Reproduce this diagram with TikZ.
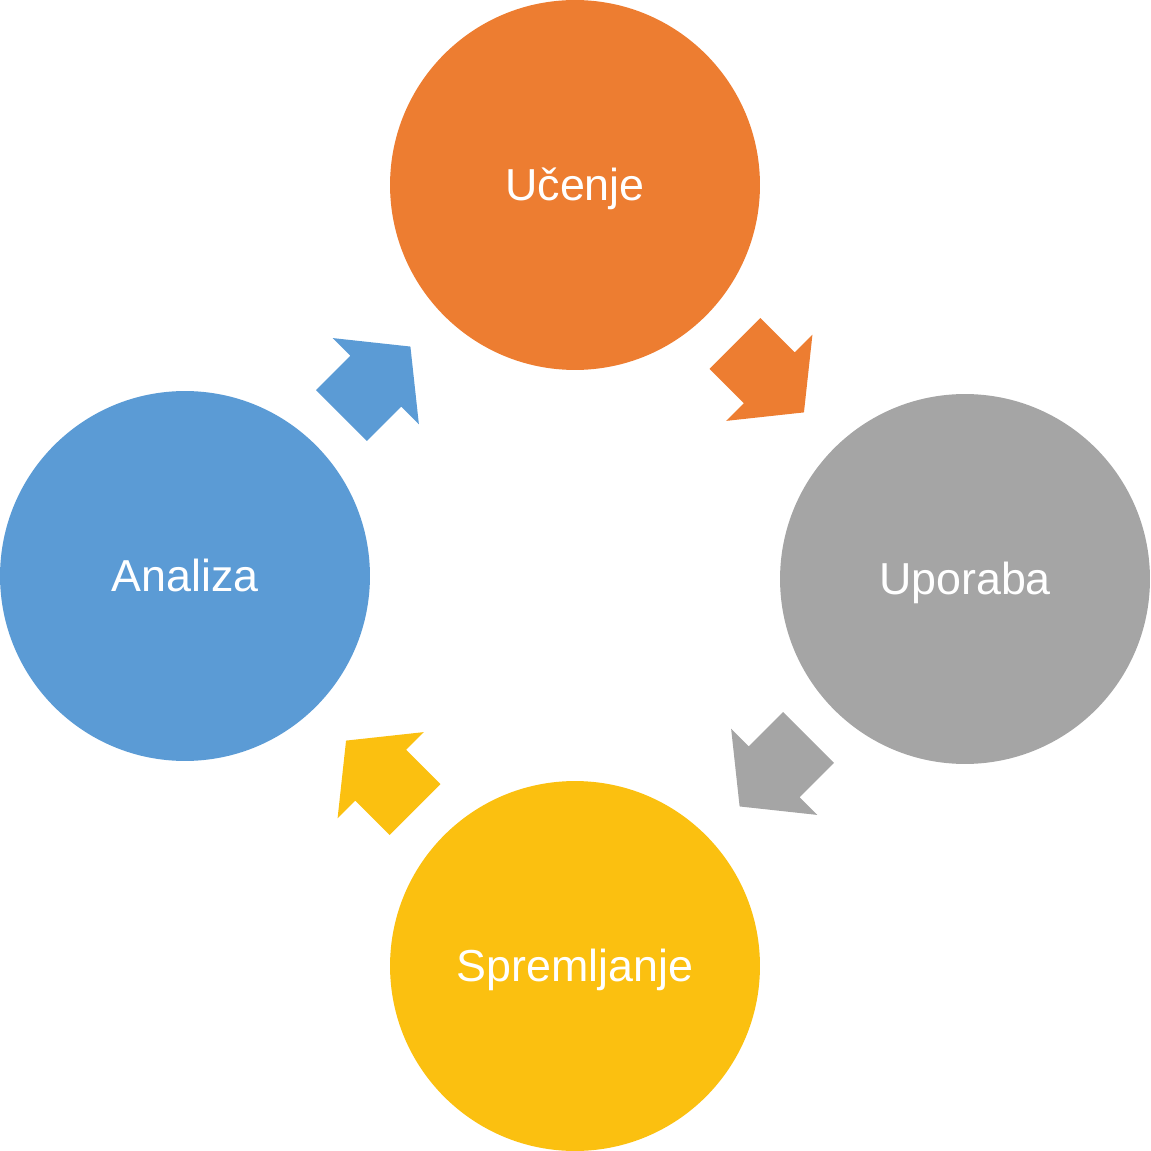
\documentclass[tikz,border=0pt]{standalone}
\usepackage{fontspec}
\setmainfont{Liberation Sans}
\usetikzlibrary{calc}

\definecolor{orangeC}{HTML}{ED7D31}
\definecolor{grayC}{HTML}{A5A5A5}
\definecolor{yellowC}{HTML}{FBC010}
\definecolor{blueC}{HTML}{5B9BD5}

\tikzset{
  phase/.style={circle, fill=#1, minimum size=7.4cm, inner sep=0pt,
    text=white, font=\fontsize{25.5}{30}\selectfont,
    text height=18.2pt, text depth=0pt},
  blockarrow/.style={fill=#1, draw=none}
}

\begin{document}
\begin{tikzpicture}[x=0.02cm, y=0.02cm]
    % ==== Parameters (in pixels of the picture) ====
    \def\TAIL{52}  \def\BASE{3.5} \def\TIP{45.5}  % along the arrow
    \def\SHAFT{36} \def\HEAD{61}  \def\OFF{2.5}   % across the arrow

    % Frame of the picture
    \useasboundingbox (0,0) rectangle (1151,-1151);

    % The four phases of the cycle
    \node[phase=orangeC] (ucenje)      at (575,-185) {Učenje};
    \node[phase=grayC]   (uporaba)     at (965,-579) {Uporaba};
    \node[phase=yellowC] (spremljanje) at (575,-966) {Spremljanje};
    \node[phase=blueC]   (analiza)     at (185,-576) {Analiza};

    % Block arrows between neighbouring phases
    \foreach \a/\b/\col/\ang in {ucenje/uporaba/orangeC/-45,
                                 uporaba/spremljanje/grayC/-135,
                                 spremljanje/analiza/yellowC/135,
                                 analiza/ucenje/blueC/45}{
        \begin{scope}[shift={($(\a)!0.5!(\b)$)}, rotate=\ang]
            \fill[blockarrow=\col] (-\TAIL,\OFF-\SHAFT) -- (-\BASE,\OFF-\SHAFT)
                -- (-\BASE,\OFF-\HEAD) -- (\TIP,\OFF) -- (-\BASE,\OFF+\HEAD)
                -- (-\BASE,\OFF+\SHAFT) -- (-\TAIL,\OFF+\SHAFT) -- cycle;
        \end{scope}
      }
  \end{tikzpicture}
\end{document}
